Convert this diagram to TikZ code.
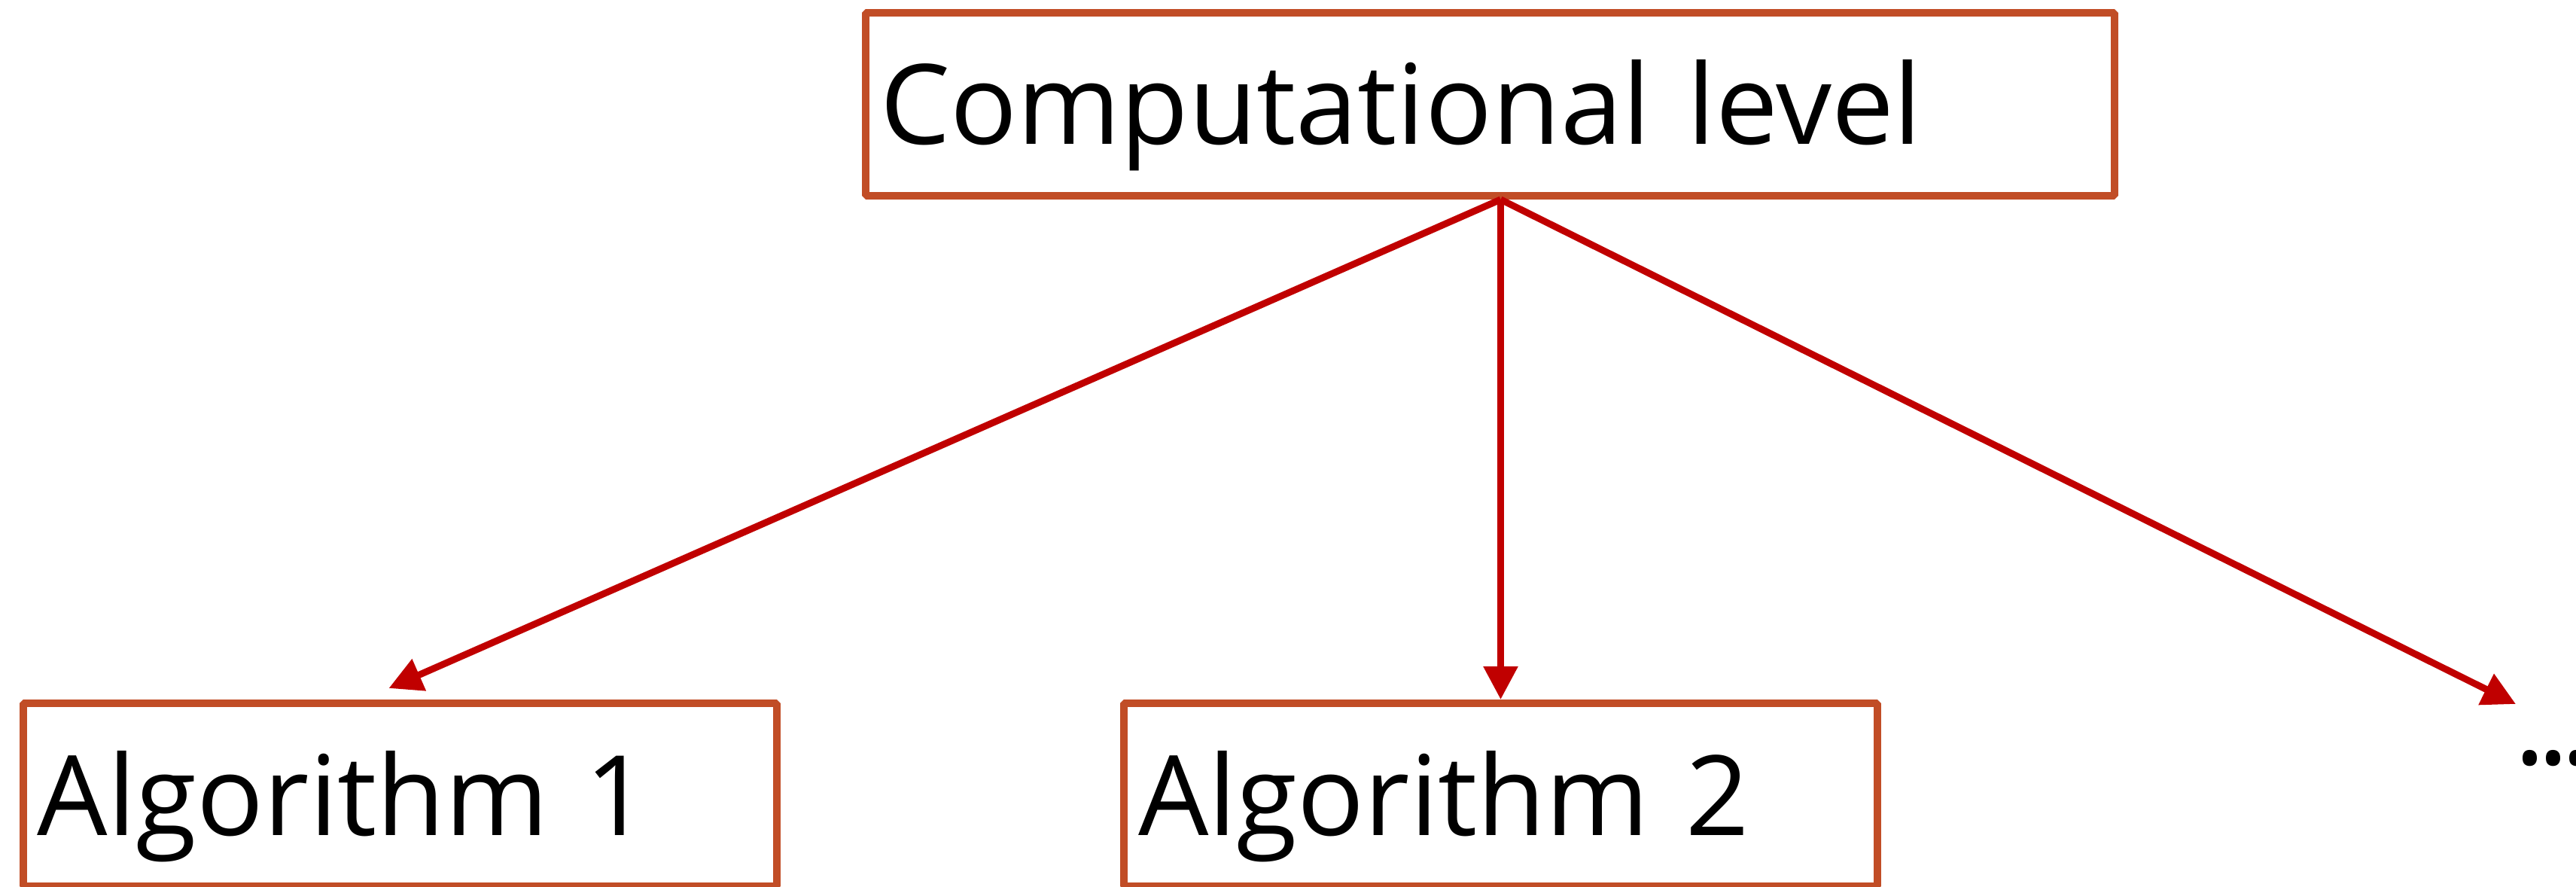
\documentclass[tikz,border=0pt]{standalone}
\usepackage{fontspec}
\setmainfont{Open Sans}
\usetikzlibrary{arrows.meta,positioning,calc}
\definecolor{rust}{RGB}{193,77,38}
\definecolor{crimson}{RGB}{192,0,0}
\tikzset{
  >={Triangle[length=4.4mm,width=4.4mm]},
  lvl/.style={draw=rust,line width=1mm,line join=bevel,text width=#1,
    inner xsep=1.9mm,inner ysep=0pt,text height=17.5mm,text depth=6.8mm,
    align=left,font=\fontsize{42}{42}\selectfont},
  flow/.style={->,draw=crimson,line width=0.9mm},
}

\begin{document}
\begin{tikzpicture}
  \useasboundingbox (0,0) rectangle (34.22,11.77);
  \node[lvl=16.21cm] (top) at (19.795,10.385) {Computational level};
  \node[lvl=9.63cm] (alg1) at (5.315,1.215) {Algorithm 1};
  \node[lvl=9.63cm] (alg2) at (19.935,1.215) {Algorithm 2};
  \node[anchor=base west,inner sep=0pt,font=\fontsize{46}{46}\selectfont] (more) at (33.39,1.62) {.\kern-3.4pt.\kern-3.4pt.};
  % arrows leave the top box from one point
  \coordinate (hub) at (alg2.north |- top.south);
  \coordinate (end3) at (33.42,2.42);
  \draw[flow] (hub) -- ([xshift=-1.5mm,yshift=1.5mm]alg1.north);
  \draw[flow] (hub) -- (alg2.north);
  \draw[flow] (hub) -- (end3);
\end{tikzpicture}
\end{document}
